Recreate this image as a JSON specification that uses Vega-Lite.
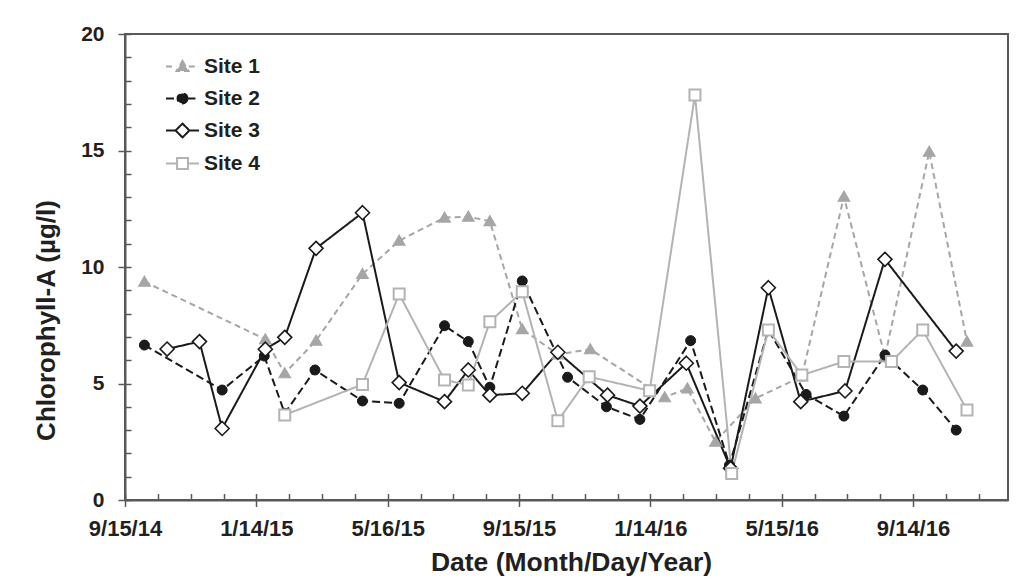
{
  "$schema": "https://vega.github.io/schema/vega-lite/v6.json",
  "width": 883,
  "height": 466,
  "autosize": {"type": "none"},
  "padding": {"left": 125, "top": 34, "right": 9, "bottom": 87},
  "background": "white",
  "data": {
    "values": [
      {"site": "Site 1", "date": "2014-10-03", "value": 9.37},
      {"site": "Site 1", "date": "2015-01-23", "value": 6.9},
      {"site": "Site 1", "date": "2015-02-10", "value": 5.44},
      {"site": "Site 1", "date": "2015-03-11", "value": 6.84},
      {"site": "Site 1", "date": "2015-04-23", "value": 9.7},
      {"site": "Site 1", "date": "2015-05-27", "value": 11.13},
      {"site": "Site 1", "date": "2015-07-08", "value": 12.12},
      {"site": "Site 1", "date": "2015-07-30", "value": 12.16},
      {"site": "Site 1", "date": "2015-08-19", "value": 11.97},
      {"site": "Site 1", "date": "2015-09-18", "value": 7.33},
      {"site": "Site 1", "date": "2015-10-21", "value": 6.25},
      {"site": "Site 1", "date": "2015-11-20", "value": 6.47},
      {"site": "Site 1", "date": "2016-01-28", "value": 4.41},
      {"site": "Site 1", "date": "2016-02-18", "value": 4.79},
      {"site": "Site 1", "date": "2016-03-15", "value": 2.5},
      {"site": "Site 1", "date": "2016-04-21", "value": 4.36},
      {"site": "Site 1", "date": "2016-06-03", "value": 5.3},
      {"site": "Site 1", "date": "2016-07-12", "value": 13.02},
      {"site": "Site 1", "date": "2016-08-19", "value": 6.15},
      {"site": "Site 1", "date": "2016-09-29", "value": 14.95},
      {"site": "Site 1", "date": "2016-11-03", "value": 6.8},

      {"site": "Site 2", "date": "2014-10-03", "value": 6.65},
      {"site": "Site 2", "date": "2014-12-14", "value": 4.72},
      {"site": "Site 2", "date": "2015-01-22", "value": 6.18},
      {"site": "Site 2", "date": "2015-02-10", "value": 3.72},
      {"site": "Site 2", "date": "2015-03-10", "value": 5.58},
      {"site": "Site 2", "date": "2015-04-23", "value": 4.25},
      {"site": "Site 2", "date": "2015-05-27", "value": 4.15},
      {"site": "Site 2", "date": "2015-07-08", "value": 7.48},
      {"site": "Site 2", "date": "2015-07-30", "value": 6.8},
      {"site": "Site 2", "date": "2015-08-19", "value": 4.84},
      {"site": "Site 2", "date": "2015-09-18", "value": 9.4},
      {"site": "Site 2", "date": "2015-10-30", "value": 5.27},
      {"site": "Site 2", "date": "2015-12-05", "value": 4.0},
      {"site": "Site 2", "date": "2016-01-05", "value": 3.46},
      {"site": "Site 2", "date": "2016-02-21", "value": 6.84},
      {"site": "Site 2", "date": "2016-03-28", "value": 1.5},
      {"site": "Site 2", "date": "2016-05-03", "value": 7.3},
      {"site": "Site 2", "date": "2016-06-07", "value": 4.53},
      {"site": "Site 2", "date": "2016-07-12", "value": 3.6},
      {"site": "Site 2", "date": "2016-08-19", "value": 6.22},
      {"site": "Site 2", "date": "2016-09-23", "value": 4.72},
      {"site": "Site 2", "date": "2016-10-24", "value": 3.0},

      {"site": "Site 3", "date": "2014-10-24", "value": 6.48},
      {"site": "Site 3", "date": "2014-11-23", "value": 6.8},
      {"site": "Site 3", "date": "2014-12-14", "value": 3.07},
      {"site": "Site 3", "date": "2015-01-23", "value": 6.47},
      {"site": "Site 3", "date": "2015-02-10", "value": 6.98},
      {"site": "Site 3", "date": "2015-03-11", "value": 10.8},
      {"site": "Site 3", "date": "2015-04-23", "value": 12.33},
      {"site": "Site 3", "date": "2015-05-27", "value": 5.04},
      {"site": "Site 3", "date": "2015-07-08", "value": 4.22},
      {"site": "Site 3", "date": "2015-07-30", "value": 5.58},
      {"site": "Site 3", "date": "2015-08-19", "value": 4.5},
      {"site": "Site 3", "date": "2015-09-18", "value": 4.58},
      {"site": "Site 3", "date": "2015-10-21", "value": 6.34},
      {"site": "Site 3", "date": "2015-12-06", "value": 4.5},
      {"site": "Site 3", "date": "2016-01-05", "value": 4.03},
      {"site": "Site 3", "date": "2016-02-17", "value": 5.87},
      {"site": "Site 3", "date": "2016-03-29", "value": 1.36},
      {"site": "Site 3", "date": "2016-05-03", "value": 9.11},
      {"site": "Site 3", "date": "2016-06-02", "value": 4.22},
      {"site": "Site 3", "date": "2016-07-13", "value": 4.68},
      {"site": "Site 3", "date": "2016-08-19", "value": 10.33},
      {"site": "Site 3", "date": "2016-10-24", "value": 6.39},

      {"site": "Site 4", "date": "2015-02-10", "value": 3.65},
      {"site": "Site 4", "date": "2015-04-23", "value": 4.96},
      {"site": "Site 4", "date": "2015-05-27", "value": 8.84},
      {"site": "Site 4", "date": "2015-07-08", "value": 5.15},
      {"site": "Site 4", "date": "2015-07-30", "value": 4.94},
      {"site": "Site 4", "date": "2015-08-19", "value": 7.65},
      {"site": "Site 4", "date": "2015-09-18", "value": 8.94},
      {"site": "Site 4", "date": "2015-10-21", "value": 3.4},
      {"site": "Site 4", "date": "2015-11-19", "value": 5.29},
      {"site": "Site 4", "date": "2016-01-14", "value": 4.69},
      {"site": "Site 4", "date": "2016-02-25", "value": 17.38},
      {"site": "Site 4", "date": "2016-03-30", "value": 1.14},
      {"site": "Site 4", "date": "2016-05-03", "value": 7.3},
      {"site": "Site 4", "date": "2016-06-03", "value": 5.36},
      {"site": "Site 4", "date": "2016-07-12", "value": 5.94},
      {"site": "Site 4", "date": "2016-08-25", "value": 5.94},
      {"site": "Site 4", "date": "2016-09-23", "value": 7.3},
      {"site": "Site 4", "date": "2016-11-03", "value": 3.86}
    ]
  },
  "layer": [
    {
      "mark": {"type": "point", "opacity": 0},
      "encoding": {
        "x": {
          "field": "date", "type": "temporal",
          "scale": {"type": "utc", "domain": [1410739200000, 1481414400000]},
          "axis": {
            "orient": "bottom", "title": null, "labels": false, "domain": false, "grid": false,
            "tickSize": -6.5, "tickWidth": 1.5, "tickColor": "#595959",
            "values": [1410739200000, 1413367200000, 1415995200000, 1418623200000, 1421251200000, 1423879200000, 1426507200000, 1429135200000, 1431763200000, 1434391200000, 1437019200000, 1439647200000, 1442275200000, 1444903200000, 1447531200000, 1450159200000, 1452787200000, 1455415200000, 1458043200000, 1460671200000, 1463299200000, 1465927200000, 1468555200000, 1471183200000, 1473811200000, 1476439200000, 1479067200000]
          }
        },
        "y": {
          "field": "value", "type": "quantitative",
          "scale": {"domain": [0, 20]},
          "axis": {
            "orient": "left", "title": null, "labels": false, "domain": false, "grid": false,
            "tickSize": -6, "tickWidth": 1.5, "tickColor": "#595959",
            "values": [0, 1, 2, 3, 4, 5, 6, 7, 8, 9, 10, 11, 12, 13, 14, 15, 16, 17, 18, 19, 20]
          }
        }
      }
    },
    {
      "encoding": {
        "x": {
          "field": "date", "type": "temporal",
          "scale": {"type": "utc", "domain": [1410739200000, 1481414400000]},
          "axis": {
            "orient": "bottom",
            "title": "Date (Month/Day/Year)",
            "values": [1410739200000, 1421251200000, 1431763200000, 1442275200000, 1452787200000, 1463299200000, 1473811200000],
            "format": "%-m/%-d/%y",
            "tickSize": 6.5, "labelPadding": 12, "labelFontSize": 22, "titlePadding": 10, "titleFontSize": 26.5, "titleX": 446,
            "labelFlush": false, "labelOverlap": false, "grid": false
          }
        },
        "y": {
          "field": "value", "type": "quantitative",
          "scale": {"domain": [0, 20]},
          "axis": {
            "orient": "left",
            "title": "Chlorophyll-A (µg/l)",
            "values": [0, 5, 10, 15, 20],
            "tickSize": 7, "labelPadding": 14, "titlePadding": 21, "titleY": 286, "titleFontSize": 26, "grid": false
          }
        }
      },
      "layer": [
        {
          "mark": {"type": "line", "strokeWidth": 2},
          "encoding": {
            "stroke": {
              "field": "site", "type": "nominal",
              "scale": {"domain": ["Site 1", "Site 2", "Site 3", "Site 4"], "range": ["#a6a6a6", "#1a1a1a", "#1a1a1a", "#b3b3b3"]},
              "legend": {"title": null, "orient": "none", "legendX": 40, "legendY": 15}
            },
            "strokeDash": {
              "field": "site", "type": "nominal",
              "scale": {"domain": ["Site 1", "Site 2", "Site 3", "Site 4"], "range": [[6, 4], [8, 4], [1, 0], [1, 0]]},
              "legend": {"title": null, "orient": "none", "legendX": 40, "legendY": 15}
            }
          }
        },
        {
          "mark": {"type": "point", "opacity": 0, "filled": true},
          "encoding": {
            "stroke": {
              "field": "site", "type": "nominal",
              "scale": {"domain": ["Site 1", "Site 2", "Site 3", "Site 4"], "range": ["#a6a6a6", "#1a1a1a", "#1a1a1a", "#b3b3b3"]},
              "legend": {"title": null, "orient": "none", "legendX": 40, "legendY": 15}
            },
            "fill": {
              "field": "site", "type": "nominal",
              "scale": {"domain": ["Site 1", "Site 2", "Site 3", "Site 4"], "range": ["#a6a6a6", "#1a1a1a", "#ffffff", "#ffffff"]},
              "legend": {"title": null, "orient": "none", "legendX": 40, "legendY": 15}
            },
            "shape": {
              "field": "site", "type": "nominal",
              "scale": {
                "domain": ["Site 1", "Site 2", "Site 3", "Site 4"],
                "range": [
                  "M-1,0H-0.38M0.38,0H1M0,-0.33L0.36,0.27L-0.36,0.27Z",
                  "M-1,0H-0.3M0.3,0H1M0.3,0A0.3,0.3,0,1,1,-0.3,0A0.3,0.3,0,1,1,0.3,0Z",
                  "M-1,0H-0.42M0.42,0H1M0,-0.42L0.42,0L0,0.42L-0.42,0Z",
                  "M-1,0H-0.33M0.33,0H1M-0.33,-0.33H0.33V0.33H-0.33Z"
                ]
              },
              "legend": {"title": null, "orient": "none", "legendX": 40, "legendY": 15}
            }
          }
        },
        {
          "transform": [{"filter": "datum.site === 'Site 1'"}],
          "mark": {"type": "point", "shape": "M0,-0.55L0.58,0.45L-0.58,0.45Z", "size": 400, "filled": true, "fill": "#a6a6a6", "stroke": "#a6a6a6", "strokeWidth": 1.2, "opacity": 1}
        },
        {
          "transform": [{"filter": "datum.site === 'Site 2'"}],
          "mark": {"type": "point", "shape": "M0.5,0A0.5,0.5,0,1,1,-0.5,0A0.5,0.5,0,1,1,0.5,0Z", "size": 400, "filled": true, "fill": "#1a1a1a", "stroke": "#1a1a1a", "strokeWidth": 1, "opacity": 1}
        },
        {
          "transform": [{"filter": "datum.site === 'Site 3'"}],
          "mark": {"type": "point", "shape": "M0,-0.7L0.7,0L0,0.7L-0.7,0Z", "size": 400, "filled": true, "fill": "#ffffff", "stroke": "#1a1a1a", "strokeWidth": 1.6, "opacity": 1}
        },
        {
          "transform": [{"filter": "datum.site === 'Site 4'"}],
          "mark": {"type": "point", "shape": "M-0.55,-0.55H0.55V0.55H-0.55Z", "size": 400, "filled": true, "fill": "#ffffff", "stroke": "#b3b3b3", "strokeWidth": 2, "opacity": 1}
        }
      ]
    }
  ],
  "resolve": {
    "scale": {"x": "independent", "y": "independent"},
    "axis": {"x": "independent", "y": "independent"}
  },
  "config": {
    "view": {"stroke": "#595959", "strokeWidth": 2},
    "font": "Liberation Sans",
    "legend": {
      "padding": 0, "symbolSize": 1089, "symbolStrokeWidth": 2, "symbolOpacity": 1, "rowPadding": 4, "labelOffset": 4,
      "labelFont": "Liberation Sans", "labelFontSize": 21, "labelFontWeight": "bold", "labelColor": "#231f20",
      "labelLimit": 300
    },
    "axis": {
      "grid": false,
      "domainColor": "#595959", "domainWidth": 2,
      "tickColor": "#595959", "tickWidth": 1.5,
      "labelFont": "Liberation Sans", "labelFontSize": 21, "labelFontWeight": "bold", "labelColor": "#231f20",
      "titleFont": "Liberation Sans", "titleFontSize": 25, "titleFontWeight": "bold", "titleColor": "#231f20"
    }
  }
}
